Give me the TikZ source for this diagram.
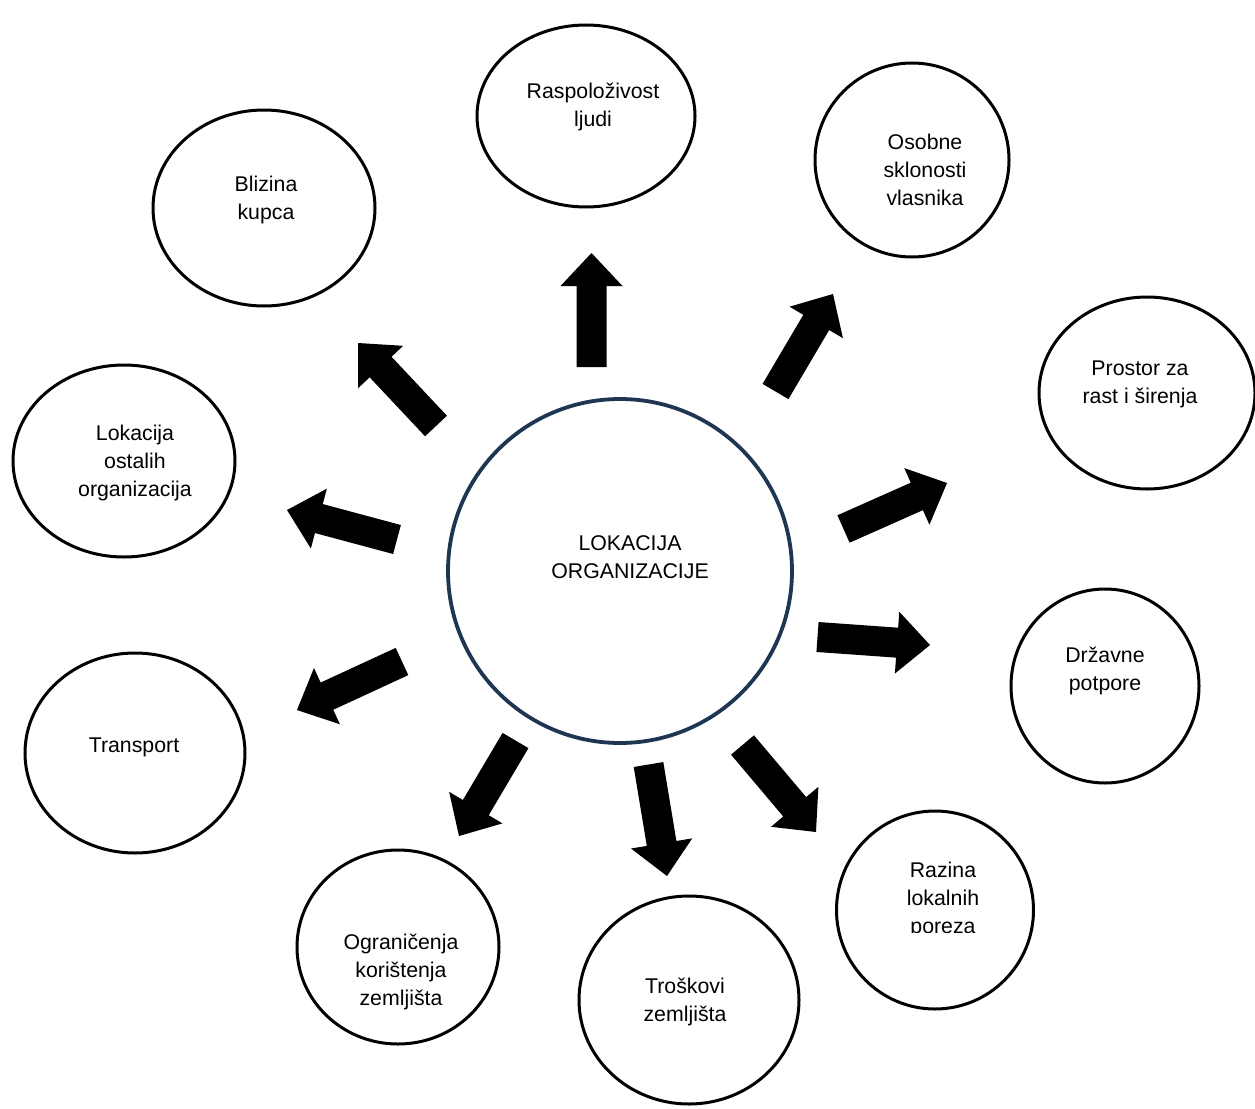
\documentclass[tikz,border=0pt]{standalone}
\usepackage{fontspec}
\setmainfont{Liberation Sans}
\usetikzlibrary{shapes.geometric,calc}
\definecolor{navy}{HTML}{1F3652}
\tikzset{
  oval/.style={draw=black, line width=3pt, ellipse, inner sep=0pt, fill=white},
  hub/.style={draw=navy, line width=3.8pt, circle, inner sep=0pt, minimum size=344pt, fill=white},
  lbl/.style={align=center, font=\fontsize{21.3}{28}\selectfont, inner sep=0pt},
}
% block arrow from tail #1 to tip #2
\newcommand{\blockarr}[2]{%
  \fill[black] ($(#1)!15pt!90:(#2)$) -- ($($(#2)!33pt!(#1)$)!15pt!-90:(#1)$)
    -- ($($(#2)!33pt!(#1)$)!31pt!-90:(#1)$) -- (#2)
    -- ($($(#2)!33pt!(#1)$)!31pt!90:(#1)$)
    -- ($($(#2)!33pt!(#1)$)!15pt!90:(#1)$) -- ($(#1)!15pt!-90:(#2)$) -- cycle;}
\begin{document}
\begin{tikzpicture}[x=1pt,y=-1pt]
\useasboundingbox (0,0) rectangle (1255,1108);
\fill[white] (0,0) rectangle (1255,1108);
% outer ellipses
\node[oval, minimum width=218pt, minimum height=182pt] (rasp) at (586,116) {};
\node[oval, minimum width=194pt, minimum height=194pt] (osob) at (912,160) {};
\node[oval, minimum width=222pt, minimum height=196pt] (bliz) at (264,208) {};
\node[oval, minimum width=216pt, minimum height=192pt] (pros) at (1147,393) {};
\node[oval, minimum width=222pt, minimum height=192pt] (loka) at (124,461) {};
\node[oval, minimum width=188pt, minimum height=194pt] (drza) at (1105,686) {};
\node[oval, minimum width=220pt, minimum height=200pt] (tran) at (135,753) {};
\node[oval, minimum width=197pt, minimum height=198pt] (razi) at (935,910) {};
\node[oval, minimum width=202pt, minimum height=194pt] (ogra) at (398,947) {};
\node[oval, minimum width=220pt, minimum height=208pt] (tros) at (689,1000) {};
% hub
\node[hub] (hub) at (620,571) {};
% labels
\node[lbl] (rasp-t) at (593,107) {Raspoloživost\\ljudi};
\node[lbl] (osob-t) at (925,170) {Osobne\\sklonosti\\vlasnika};
\node[lbl] (bliz-t) at (266,200) {Blizina\\kupca};
\node[lbl] (pros-t) at (1140,384) {Prostor za\\rast i širenja};
\node[lbl] (loka-t) at (135,463) {Lokacija\\ostalih\\organizacija};
\node[lbl] (hub-t) at (630,557) {LOKACIJA\\ORGANIZACIJE};
\node[lbl] (drza-t) at (1105,671) {Državne\\potpore};
\node[lbl] (tran-t) at (134,747) {Transport};
\begin{scope}
\clip (860,840) rectangle (1020,932);
\node[lbl] (razi-t) at (943,900) {Razina\\lokalnih\\poreza};
\end{scope}
\node[lbl] (ogra-t) at (401,972) {Ograničenja\\korištenja\\zemljišta};
\node[lbl] (tros-t) at (685,1002) {Troškovi\\zemljišta};
% arrow end points
\coordinate (a1s) at (591.5,367); \coordinate (a1e) at (591.5,253);
\coordinate (a2s) at (775.5,391.5); \coordinate (a2e) at (833,294);
\coordinate (a3s) at (436,426); \coordinate (a3e) at (358,343);
\coordinate (a4s) at (843.5,529); \coordinate (a4e) at (947,483);
\coordinate (a5s) at (817.5,637); \coordinate (a5e) at (930,645);
\coordinate (a6s) at (397,539.5); \coordinate (a6e) at (287,510);
\coordinate (a7s) at (402,661.5); \coordinate (a7e) at (297,710);
\coordinate (a8s) at (515.5,740.5); \coordinate (a8e) at (459,836);
\coordinate (a9s) at (648.5,764.5); \coordinate (a9e) at (667,876);
\coordinate (a10s) at (742.5,745); \coordinate (a10e) at (816,832);
\blockarr{a1s}{a1e}
\blockarr{a2s}{a2e}
\blockarr{a3s}{a3e}
\blockarr{a4s}{a4e}
\blockarr{a5s}{a5e}
\blockarr{a6s}{a6e}
\blockarr{a7s}{a7e}
\blockarr{a8s}{a8e}
\blockarr{a9s}{a9e}
\blockarr{a10s}{a10e}
\end{tikzpicture}
\end{document}
